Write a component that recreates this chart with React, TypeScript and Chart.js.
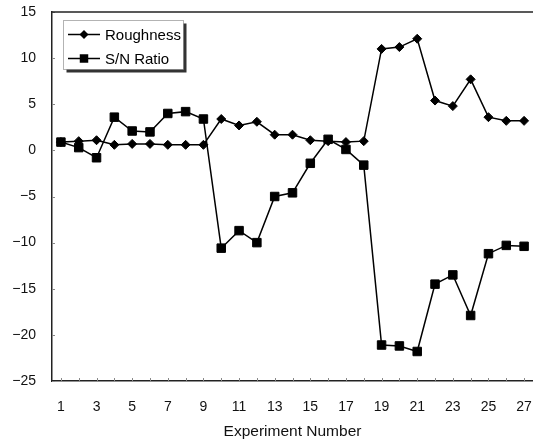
import React, { useEffect, useRef } from "react";
import { Chart, registerables } from "chart.js";

Chart.register(...registerables);

const experiments = [
  "1", "2", "3", "4", "5", "6", "7", "8", "9", "10", "11", "12", "13", "14",
  "15", "16", "17", "18", "19", "20", "21", "22", "23", "24", "25", "26", "27",
];
const roughness = [
  0.9, 1.0, 1.1, 0.6, 0.7, 0.7, 0.6, 0.6, 0.6, 3.4, 2.7, 3.1, 1.7, 1.7,
  1.1, 1.0, 0.9, 1.0, 11.0, 11.2, 12.1, 5.4, 4.8, 7.7, 3.6, 3.2, 3.2,
];
const snRatio = [
  0.9, 0.3, -0.8, 3.6, 2.1, 2.0, 4.0, 4.2, 3.4, -10.6, -8.7, -10.0, -5.0, -4.6,
  -1.4, 1.2, 0.1, -1.6, -21.1, -21.2, -21.8, -14.5, -13.5, -17.9, -11.2, -10.3, -10.4,
];
const yTicks = [15, 10, 5, 0, -5, -10, -15, -20, -25];
const xTitle = "Experiment Number";

const FONT = "'Liberation Sans', Arial, sans-serif";

function marker(ctx: CanvasRenderingContext2D, style: string, r: number, x: number, y: number) {
  ctx.beginPath();
  if (style === "rectRot") {
    ctx.moveTo(x, y - r);
    ctx.lineTo(x + r, y);
    ctx.lineTo(x, y + r);
    ctx.lineTo(x - r, y);
    ctx.closePath();
  } else {
    const s = r * Math.SQRT1_2;
    ctx.rect(x - s, y - s, 2 * s, 2 * s);
  }
  ctx.fill();
}

const frameAndLegend = {
  id: "frameAndLegend",
  beforeDatasetsDraw(chart: any) {
    const ctx = chart.ctx;
    const { left, bottom } = chart.chartArea;
    const xs = chart.scales.x;
    const ys = chart.scales.y;
    ctx.save();
    ctx.strokeStyle = "#888";
    ctx.lineWidth = 1;
    for (let i = 0; i < experiments.length; i++) {
      const px = Math.round(xs.getPixelForValue(i)) + 0.5;
      ctx.beginPath();
      ctx.moveTo(px, bottom);
      ctx.lineTo(px, bottom - 3);
      ctx.stroke();
    }
    yTicks.forEach((v) => {
      const py = Math.round(ys.getPixelForValue(v)) + 0.5;
      ctx.beginPath();
      ctx.moveTo(left, py);
      ctx.lineTo(left + 3, py);
      ctx.stroke();
    });
    ctx.restore();
  },
  afterDatasetsDraw(chart: any) {
    const ctx = chart.ctx;
    const { left, right, top } = chart.chartArea;
    ctx.save();
    ctx.strokeStyle = "#222";
    ctx.lineWidth = 1.5;
    ctx.beginPath();
    ctx.moveTo(left, top);
    ctx.lineTo(right, top);
    ctx.stroke();

    const bx = 63.5, by = 20.5, bw = 120, bh = 49;
    ctx.fillStyle = "#333";
    ctx.fillRect(bx + 3, by + 3, bw, bh);
    ctx.fillStyle = "#fff";
    ctx.fillRect(bx, by, bw, bh);
    ctx.strokeStyle = "#666";
    ctx.lineWidth = 1;
    ctx.setLineDash([1, 1]);
    ctx.strokeRect(bx, by, bw, bh);
    ctx.setLineDash([]);

    chart.data.datasets.forEach((ds: any, i: number) => {
      const cy = by + 14 + i * 24;
      ctx.strokeStyle = ds.borderColor;
      ctx.lineWidth = ds.borderWidth;
      ctx.beginPath();
      ctx.moveTo(68, cy);
      ctx.lineTo(100, cy);
      ctx.stroke();
      ctx.fillStyle = ds.pointBackgroundColor;
      marker(ctx, ds.pointStyle, ds.pointRadius, 84, cy);
      ctx.fillStyle = "#000";
      ctx.font = `15px ${FONT}`;
      ctx.textBaseline = "middle";
      ctx.textAlign = "left";
      ctx.fillText(ds.label, 105, cy + 1);
    });
    ctx.restore();
  },
};

export default function App() {
  const ref = useRef<HTMLCanvasElement | null>(null);

  useEffect(() => {
    document.body.style.margin = "0";
    const canvas = ref.current;
    if (!canvas) return;
    const chart = new Chart(canvas, {
      type: "line",
      data: {
        labels: experiments,
        datasets: [
          {
            label: "Roughness",
            data: roughness,
            borderColor: "#000",
            backgroundColor: "#000",
            pointBackgroundColor: "#000",
            pointBorderColor: "#000",
            borderWidth: 1.5,
            pointStyle: "rectRot",
            pointRadius: 4.5,
            pointBorderWidth: 1,
            tension: 0,
          },
          {
            label: "S/N Ratio",
            data: snRatio,
            borderColor: "#000",
            backgroundColor: "#000",
            pointBackgroundColor: "#000",
            pointBorderColor: "#000",
            borderWidth: 1.5,
            pointStyle: "rect",
            pointRadius: 6,
            pointBorderWidth: 1,
            tension: 0,
          },
        ],
      },
      options: {
        animation: false,
        responsive: false,
        maintainAspectRatio: false,
        layout: { autoPadding: false, padding: { top: 12, right: 0, bottom: 0, left: 0 } },
        plugins: {
          legend: { display: false },
          tooltip: { enabled: false },
        },
        scales: {
          x: {
            type: "category",
            offset: true,
            grid: {
              display: true,
              drawOnChartArea: false,
              drawTicks: true,
              tickLength: 18,
              tickColor: "rgba(0,0,0,0)",
            },
            border: { display: true, color: "#222", width: 1.5 },
            ticks: {
              autoSkip: false,
              maxRotation: 0,
              padding: 0,
              color: "#111",
              font: { family: FONT, size: 14 },
              callback: (_v: any, i: number) => (i % 2 === 0 ? experiments[i] : ""),
            },
            title: {
              display: true,
              text: xTitle,
              color: "#111",
              font: { family: FONT, size: 15.5 },
              padding: { top: 0, bottom: 3 },
            },
            afterFit: (s: any) => {
              s.height = 63;
              s.paddingLeft = 0;
              s.paddingRight = 0;
            },
          },
          y: {
            min: -25,
            max: 15,
            grid: {
              display: true,
              drawOnChartArea: false,
              drawTicks: true,
              tickLength: 16,
              tickColor: "rgba(0,0,0,0)",
            },
            border: { display: true, color: "#222", width: 1.5 },
            afterBuildTicks: (s: any) => {
              s.ticks = yTicks.map((v) => ({ value: v }));
            },
            ticks: {
              padding: 0,
              color: "#111",
              font: { family: FONT, size: 14 },
              callback: (v: any) => (Number(v) < 0 ? "\u2212" + Math.abs(Number(v)) : String(v)),
            },
            afterFit: (s: any) => {
              s.width = 52;
            },
          },
        },
      },
      plugins: [frameAndLegend],
    });
    return () => chart.destroy();
  }, []);

  return (
    <div style={{ width: 533, height: 444, background: "#fff" }}>
      <canvas ref={ref} width={533} height={444} style={{ display: "block" }} />
    </div>
  );
}
